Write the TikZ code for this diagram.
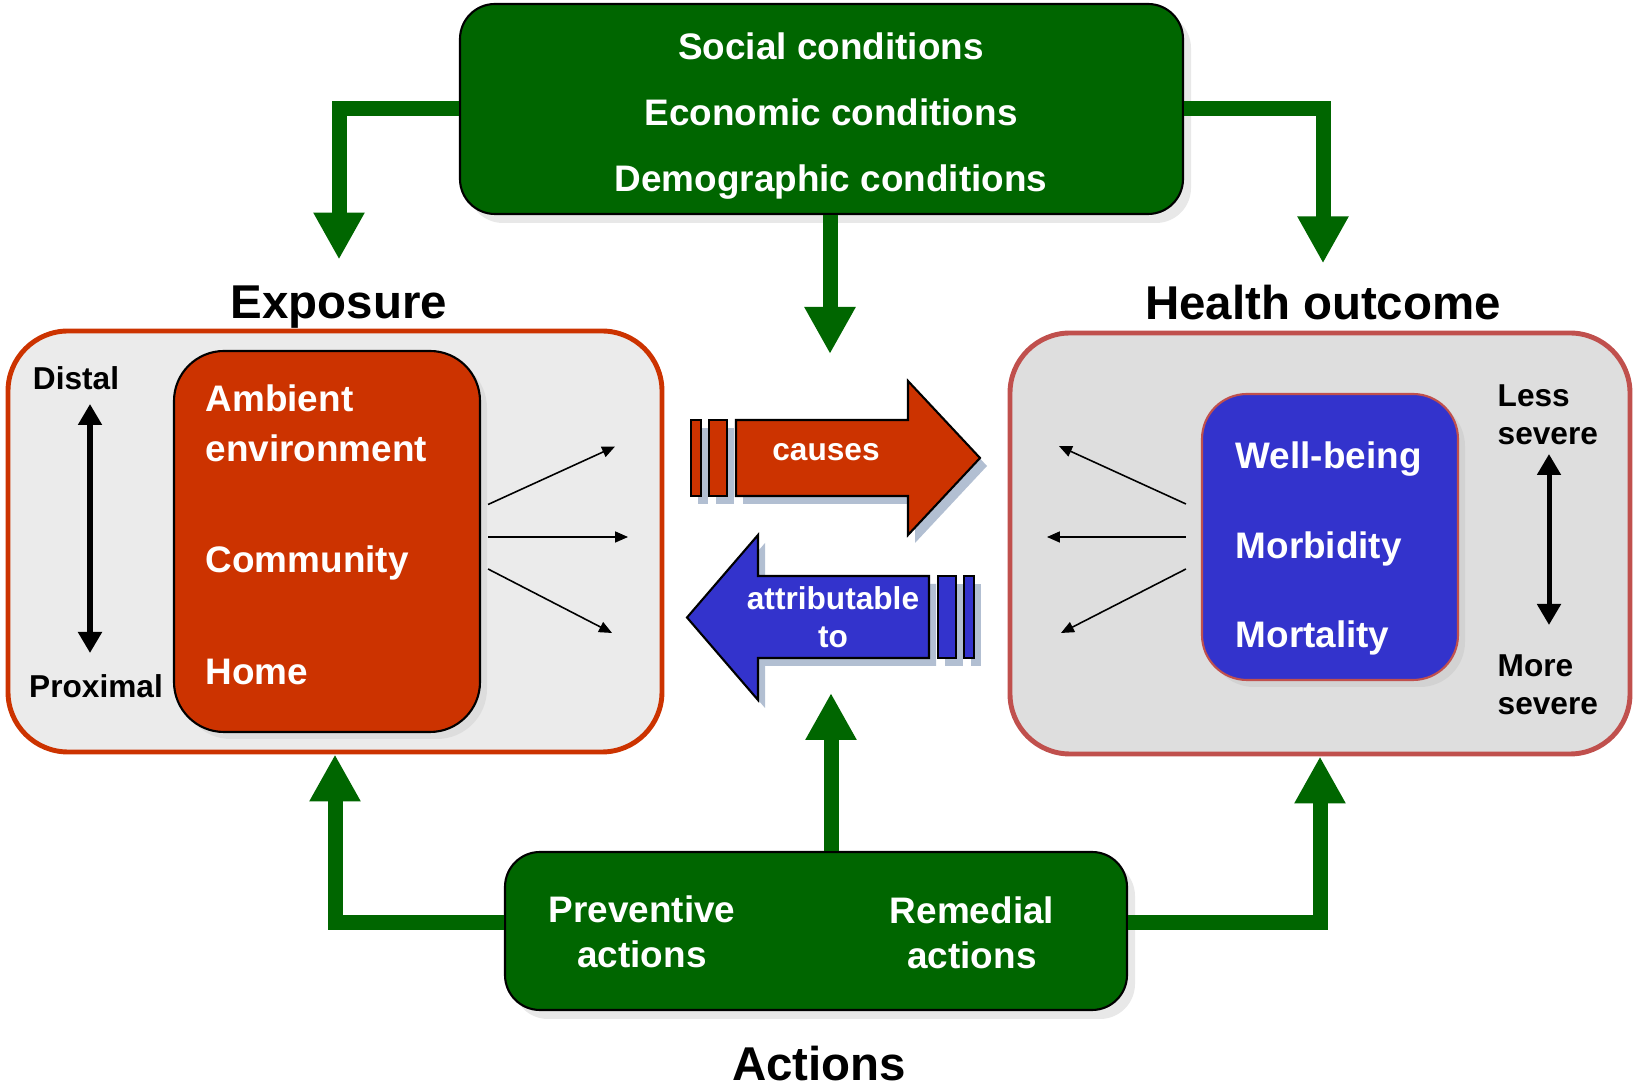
\documentclass[tikz,border=0pt]{standalone}
\usepackage{fontspec}
\setmainfont{Liberation Sans}
\usepackage{tikz}
\usetikzlibrary{arrows.meta,shadows}
\definecolor{ddgreen}{HTML}{006600}
\definecolor{ddred}{HTML}{CC3300}
\definecolor{ddblue}{HTML}{3333CC}
\definecolor{ddrose}{HTML}{C0504D}
\definecolor{ddshade}{HTML}{3F5F8F}
\tikzset{
  big_t/.style = {inner sep=1pt, font=\fontsize{13.5}{16}\selectfont\bfseries},
  mid_t/.style = {inner sep=0pt, white, align=left, anchor=west,
    font=\fontsize{10.5}{14.2}\selectfont\bfseries},
  sml_t/.style = {inner sep=0pt, align=left,
    font=\fontsize{9}{10.8}\selectfont\bfseries},% petits textes
  box_g/.style = {rounded corners=0.35cm, draw=black, fill=ddgreen,
    text=white, align=center, line width=0.6pt,
    drop shadow={opacity=0.18, fill=gray, shadow xshift=0.08cm, shadow yshift=-0.09cm}},% boite verte
  box_exp/.style = {rounded corners=0.6cm, draw=ddred, fill=black!8,
    line width=1.4pt, minimum width=6.54cm, minimum height=4.21cm},
  box_out/.style = {rounded corners=0.6cm, draw=ddrose, fill=black!13,
    line width=1.4pt, minimum width=6.20cm, minimum height=4.21cm},
  box_r/.style = {rounded corners=0.5cm, draw=black, fill=ddred, line width=0.6pt,
    minimum width=3.06cm, minimum height=3.81cm,
    drop shadow={opacity=0.12, fill=gray, shadow xshift=0.07cm, shadow yshift=-0.07cm}},
  box_b/.style = {rounded corners=0.45cm, draw=ddrose, fill=ddblue, line width=0.6pt,
    minimum width=2.56cm, minimum height=2.86cm,
    drop shadow={opacity=0.12, fill=gray, shadow xshift=0.07cm, shadow yshift=-0.07cm}},
  arr_shadow/.style = {drop shadow={opacity=0.4, fill=ddshade,
    shadow xshift=0.07cm, shadow yshift=-0.08cm}},% ombre des grosses fleches
  g_arrow/.style = {draw=ddgreen, line width=0.15cm,
    -{Triangle[length=0.47cm,width=0.48cm]}},
  sev_arrow/.style = {line width=0.05cm,
    {Triangle[length=0.21cm,width=0.23cm]}-{Triangle[length=0.21cm,width=0.23cm]}},
  thin_arrow/.style = {line width=0.45pt, -{Triangle[length=0.13cm,width=0.11cm]}}
}

\begin{document}
\begin{tikzpicture}
\useasboundingbox (0,0) rectangle (16.33,-10.89);

% the two big frames
\node [box_exp] (expo) at (3.35,-5.415) {};
\node [box_out] (hout) at (13.20,-5.435) {};
\node [box_r] (envbox) at (3.27,-5.415) {};
\node [box_b] (hbox) at (13.30,-5.37) {};

% conditions and actions
\node [box_g, minimum width=7.23cm, minimum height=2.1cm] (cond) at (8.215,-1.09) {};
\node [mid_t, anchor=center, align=center, font=\fontsize{10.5}{18.8}\selectfont\bfseries]
  (condtxt) at (8.31,-1.163) {Social conditions\\Economic conditions\\Demographic conditions};
\node [box_g, minimum width=6.22cm, minimum height=1.58cm] (act) at (8.16,-9.31) {};
\node [mid_t, anchor=center, align=center, font=\fontsize{10.5}{12.8}\selectfont\bfseries]
  (prev) at (6.42,-9.32) {Preventive\\actions};
\node [mid_t, anchor=center, align=center, font=\fontsize{10.5}{12.8}\selectfont\bfseries]
  (remed) at (9.72,-9.33) {Remedial\\actions};

% titles
\node [big_t] (exlabel) at (3.39,-3.07) {Exposure};
\node [big_t] (holabel) at (13.23,-3.03) {Health outcome};
\node [big_t, inner sep=0pt] (aclabel) at (8.19,-10.64) {Actions};

% inside exposure
\node [mid_t] (amb) at (2.05,-4.23) {Ambient\\environment};
\node [mid_t] (comm) at (2.05,-5.63) {Community};
\node [mid_t] (home) at (2.05,-6.72) {Home};
\node [sml_t] (distal) at (0.76,-3.78) {Distal};
\node [sml_t] (proximal) at (0.96,-6.86) {Proximal};
\coordinate (dtop) at (0.90,-4.04);
\coordinate (dbot) at (0.90,-6.53);
\draw [sev_arrow] (dtop) -- (dbot);

% inside health outcome
\node [mid_t] (well) at (12.35,-4.59) {Well-being};
\node [mid_t] (morb) at (12.35,-5.49) {Morbidity};
\node [mid_t] (mort) at (12.35,-6.38) {Mortality};
\node [sml_t, anchor=west] (less) at (14.97,-4.15) {Less\\severe};
\node [sml_t, anchor=west] (more) at (14.97,-6.85) {More\\severe};
\coordinate (stop) at (15.49,-4.54);
\coordinate (sbot) at (15.49,-6.25);
\draw [sev_arrow] (stop) -- (sbot);

% fan arrows
\draw [thin_arrow] ([xshift=0.07cm,yshift=0.37cm]envbox.east) -- ++(1.27,0.58);
\draw [thin_arrow] ([xshift=0.07cm,yshift=0.045cm]envbox.east) -- ++(1.40,0);
\draw [thin_arrow] ([xshift=0.07cm,yshift=-0.275cm]envbox.east) -- ++(1.24,-0.64);
\draw [thin_arrow] ([xshift=-0.15cm,yshift=0.33cm]hbox.west) -- ++(-1.27,0.58);
\draw [thin_arrow] ([xshift=-0.15cm,yshift=0cm]hbox.west) -- ++(-1.39,0);
\draw [thin_arrow] ([xshift=-0.15cm,yshift=-0.32cm]hbox.west) -- ++(-1.25,-0.64);

% causes
\filldraw [fill=ddred, line width=0.6pt, arr_shadow] (7.36,-4.20) -- (9.08,-4.20)
  -- (9.08,-3.81) -- (9.80,-4.58) -- (9.08,-5.35) -- (9.08,-4.96) -- (7.36,-4.96) -- cycle;
\filldraw [fill=ddred, line width=0.6pt, arr_shadow] (6.91,-4.20) rectangle (7.01,-4.96);
\filldraw [fill=ddred, line width=0.6pt, arr_shadow] (7.09,-4.20) rectangle (7.27,-4.96);
\node [sml_t, white] (causes) at (8.26,-4.52) {causes};

% attributable to
\filldraw [fill=ddblue, line width=0.6pt, arr_shadow] (9.29,-5.76) -- (7.58,-5.76)
  -- (7.58,-5.35) -- (6.87,-6.175) -- (7.58,-7.00) -- (7.58,-6.58) -- (9.29,-6.58) -- cycle;
\filldraw [fill=ddblue, line width=0.6pt, arr_shadow] (9.38,-5.76) rectangle (9.56,-6.58);
\filldraw [fill=ddblue, line width=0.6pt, arr_shadow] (9.64,-5.76) rectangle (9.74,-6.58);
\node [sml_t, white, align=center] (attr) at (8.33,-6.175) {attributable\\to};

% green connectors
\coordinate (ctop) at (8.30,-3.54);
\coordinate (cbot) at (8.31,-6.93);
\draw [g_arrow, shorten >=0.22cm] (cond.west) -| (exlabel.north);
\draw [g_arrow, shorten >=0.18cm] (cond.east) -| (holabel.north);
\draw [g_arrow] (cond.south -| ctop) -- (ctop);
\draw [g_arrow] ([yshift=0.08cm]act.west) -| (expo.south);
\draw [g_arrow] ([yshift=0.08cm]act.east) -| (hout.south);
\draw [g_arrow] (act.north -| cbot) -- (cbot);
\end{tikzpicture}
\end{document}
